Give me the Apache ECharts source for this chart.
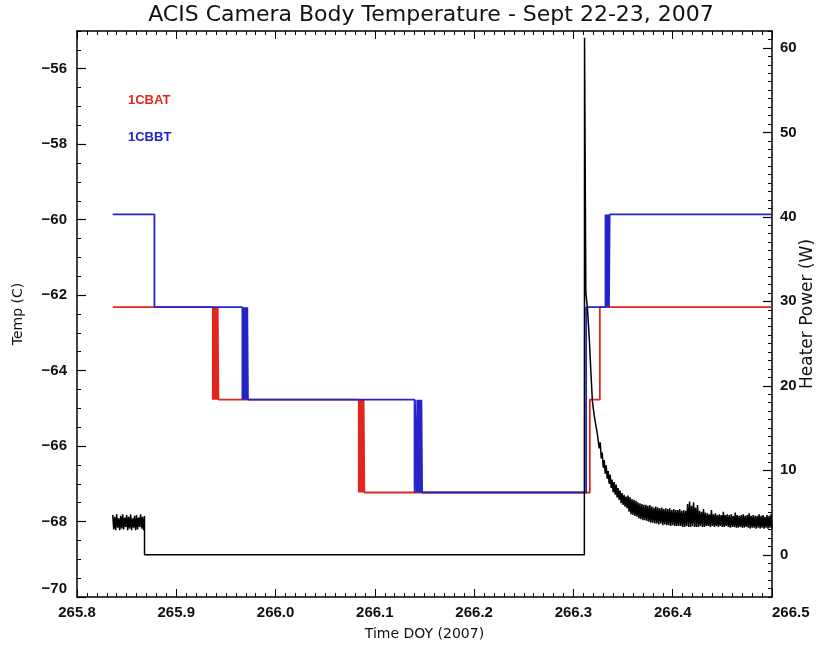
<!DOCTYPE html>
<html><head><meta charset="utf-8">
<script src="https://cdn.jsdelivr.net/npm/echarts@6/dist/echarts.min.js"></script>
<style>html,body{margin:0;padding:0;background:#fff}#c{width:820px;height:648px}</style>
</head><body><div id="c"></div>
<script>
// ---- Data ----
const titleText = 'ACIS Camera Body Temperature - Sept 22-23, 2007';
const seriesNames = ['1CBAT', '1CBBT', 'Heater Power'];
const xName = 'Time DOY (2007)';
const yLeftName = 'Temp (C)';
const yRightName = 'Heater Power (W)';

// 1CBAT temperature (time DOY, deg C)
const cbatPoints = [
  [265.836,-62.32],
  [265.9368,-62.32],[265.9368,-64.77],[265.9375,-64.77],[265.9375,-62.32],[265.9382,-62.32],[265.9382,-64.77],
  [265.9389,-64.77],[265.9389,-62.32],[265.9396,-62.32],[265.9396,-64.77],[265.9403,-64.77],[265.9403,-62.32],
  [265.9410,-62.32],[265.9410,-64.77],[265.9417,-64.77],[265.9417,-62.32],[265.9424,-62.32],[265.9424,-64.77],
  [266.0838,-64.77],[266.0838,-67.23],[266.0845,-67.23],[266.0845,-64.77],[266.0852,-64.77],[266.0852,-67.23],
  [266.0859,-67.23],[266.0859,-64.77],[266.0866,-64.77],[266.0866,-67.23],[266.0873,-67.23],[266.0873,-64.77],
  [266.0880,-64.77],[266.0880,-67.23],[266.0887,-67.23],[266.0887,-64.77],[266.0894,-64.77],[266.0894,-67.23],
  [266.3165,-67.23],[266.3165,-64.77],[266.3266,-64.77],[266.3266,-62.32],[266.5,-62.32]
];
// 1CBBT temperature (time DOY, deg C)
const cbbtPoints = [
  [265.836,-59.86],[265.878,-59.86],[265.878,-62.32],
  [265.9666,-62.32],[265.9666,-64.77],[265.9673,-64.77],[265.9673,-62.32],[265.9680,-62.32],[265.9680,-64.77],
  [265.9687,-64.77],[265.9687,-62.32],[265.9694,-62.32],[265.9694,-64.77],[265.9701,-64.77],[265.9701,-62.32],
  [265.9708,-62.32],[265.9708,-64.77],[265.9715,-64.77],[265.9715,-62.32],[265.9722,-62.32],[265.9722,-64.77],
  [266.1400,-64.77],[266.1400,-67.23],[266.1404,-67.23],[266.1404,-64.77],
  [266.1420,-64.77],[266.1420,-67.23],[266.1427,-67.23],[266.1427,-64.77],[266.1434,-64.77],[266.1434,-67.23],
  [266.1441,-67.23],[266.1441,-64.77],[266.1448,-64.77],[266.1448,-67.23],[266.1455,-67.23],[266.1455,-64.77],
  [266.1462,-64.77],[266.1462,-67.23],[266.1469,-67.23],[266.1469,-64.77],[266.1476,-64.77],[266.1476,-67.23],
  [266.3128,-67.23],[266.3128,-62.32],
  [266.3323,-62.32],[266.3323,-59.86],[266.3330,-59.86],[266.3330,-62.32],[266.3337,-62.32],[266.3337,-59.86],
  [266.3344,-59.86],[266.3344,-62.32],[266.3351,-62.32],[266.3351,-59.86],[266.3358,-59.86],[266.3358,-62.32],
  [266.3365,-62.32],[266.3365,-59.86],
  [266.5,-59.86]
];
// Heater power: early noisy segment, sampled every 0.001 day from 265.836
const powerStartT0 = 265.836;
const powerSampleStep = 0.001;
const powerStartValues = [4.7,3.0,4.5,2.9,4.8,3.2,4.3,2.9,4.6,3.1,4.8,3.0,4.4,3.3,4.7,2.9,4.5,3.1,4.8,2.9,
  4.3,3.2,4.6,2.9,4.7,3.0,4.4,3.3,4.8,3.1,4.5,2.9,4.6];
// Heater power: off period and spike (time DOY, W)
const powerMidPoints = [
  [265.868,0],[266.3110,0],[266.3112,61.2],[266.3125,31.0],[266.3141,29.2],[266.3151,27.3],[266.3161,25.3],
  [266.3176,21.6],[266.3191,18.2],[266.3210,16.4],[266.3232,14.9],[266.3242,14.2]
];
// Heater power: noisy decay, sampled every 0.001 day from 266.325
const powerTailT0 = 266.325;
const powerTailValues = [
  14.4,12.6,13.3,11.4,12.1,10.3,11.2,9.6,10.6,9.0,
  9.9,8.4,9.5,7.9,8.9,7.4,8.6,7.1,8.3,6.8,
  7.9,6.5,7.6,6.1,7.3,5.9,7.1,5.7,6.9,5.5,
  7.0,5.1,6.8,4.8,6.6,4.7,6.5,4.6,6.4,4.5,
  6.2,4.3,6.1,4.2,6.0,4.1,5.9,4.1,5.9,4.0,
  5.8,3.9,5.9,3.8,5.7,3.8,5.6,3.7,5.7,3.7,
  5.6,3.6,5.5,3.7,5.6,3.5,5.4,3.6,5.5,3.5,
  5.4,3.5,5.5,3.4,5.3,3.5,5.4,3.4,5.3,3.4,
  5.3,3.4,5.4,3.4,5.2,3.3,5.3,3.3,5.2,3.4,
  6.0,3.3,6.3,3.3,5.8,3.4,6.2,3.3,5.6,3.3,
  5.9,3.3,5.2,3.4,5.1,3.3,5.4,3.3,5.0,3.4,
  4.9,3.4,4.8,3.3,5.3,3.4,4.8,3.3,4.9,3.4,
  4.7,3.3,4.8,3.4,4.7,3.3,5.1,3.3,4.7,3.4,
  4.8,3.3,4.7,3.2,4.8,3.3,4.6,3.3,5.0,3.2,
  4.7,3.2,4.6,3.3,4.7,3.2,4.8,3.2,4.6,3.3,
  4.7,3.2,4.9,3.1,4.6,3.2,4.7,3.2,4.6,3.1,
  4.6,3.2,4.8,3.1,4.6,3.2,4.7,3.1,4.5,3.2,
  4.7,3.1,4.6,3.2,4.8,3.1
];
const xMin = 265.8, xMax = 266.5, xStep = 0.1;
const tempMin = -70, tempMax = -55, tempStep = 2, tempMinorStep = 0.5;
const powMin = -5, powMax = 62, powStep = 10, powMinorStep = 1;

// ---- Build ----
function sampled(t0, step, vals) {
  return vals.map((v, i) => [Math.round((t0 + i * step) * 1e6) / 1e6, v]);
}
const powerData = sampled(powerStartT0, powerSampleStep, powerStartValues)
  .concat(powerMidPoints)
  .concat(sampled(powerTailT0, powerSampleStep, powerTailValues));

const FONT = 'Liberation Sans';
const HFONT = 'DejaVu Sans';
const ink = '#111';
const minus = v => String(v).replace('-', '\u2212');
const tickFont = {fontFamily: FONT, fontSize: 15, fontWeight: 'bold', color: ink};

const baseAxisLine = {show: true, onZero: false, lineStyle: {color: '#000', width: 1.5}};
const chart = echarts.init(document.getElementById('c'), null, {renderer: 'canvas'});
chart.setOption({
  animation: false,
  backgroundColor: '#fff',
  grid: {left: 77, right: 48, top: 31, bottom: 51, containLabel: false, outerBoundsMode: 'none'},
  xAxis: [
    {type: 'value', position: 'bottom', min: xMin, max: xMax, interval: xStep,
      axisLine: baseAxisLine,
      axisTick: {show: true, inside: true, length: 8, lineStyle: {color: '#000', width: 1}},
      minorTick: {show: true, splitNumber: 10, length: 4, lineStyle: {color: '#000', width: 1}},
      axisLabel: Object.assign({formatter: v => v.toFixed(1), margin: 8, alignMaxLabel: 'left'}, tickFont),
      splitLine: {show: false},
      name: xName, nameLocation: 'middle', nameGap: 30,
      nameTextStyle: {fontFamily: HFONT, fontSize: 14, color: ink}},
    {type: 'value', position: 'top', min: xMin, max: xMax, interval: xStep,
      axisLine: baseAxisLine,
      axisTick: {show: true, inside: true, length: 8, lineStyle: {color: '#000', width: 1}},
      minorTick: {show: true, splitNumber: 10, length: 4, lineStyle: {color: '#000', width: 1}},
      axisLabel: {show: false}, splitLine: {show: false}}
  ],
  yAxis: [
    {type: 'value', position: 'left', min: tempMin, max: tempMax, interval: tempStep,
      axisLine: baseAxisLine,
      axisTick: {show: true, inside: true, length: 9, lineStyle: {color: '#000', width: 1.2}},
      axisLabel: Object.assign({
        formatter: v => (v === tempMin ? '{lo|' + minus(v) + '}' : (v % 2 === 0 ? minus(v) : '')),
        showMaxLabel: false, margin: 10,
        rich: {lo: Object.assign({padding: [0, 0, 16, 0]}, tickFont)}}, tickFont),
      splitLine: {show: false},
      name: yLeftName, nameLocation: 'middle', nameGap: 52, nameRotate: 90,
      nameTextStyle: {fontFamily: HFONT, fontSize: 14, color: ink}},
    {type: 'value', position: 'left', min: tempMin, max: tempMax, interval: tempMinorStep,
      axisLine: {show: false},
      axisTick: {show: true, inside: true, length: 4, lineStyle: {color: '#000', width: 1}},
      axisLabel: {show: false}, splitLine: {show: false}},
    {type: 'value', position: 'right', min: powMin, max: powMax, minInterval: powStep, maxInterval: powStep,
      axisLine: baseAxisLine,
      axisTick: {show: true, inside: true, length: 9, lineStyle: {color: '#000', width: 1.2}},
      axisLabel: Object.assign({formatter: v => (v % 10 === 0 ? String(v) : ''),
        showMinLabel: false, showMaxLabel: false, margin: 8}, tickFont),
      splitLine: {show: false},
      name: yRightName, nameLocation: 'middle', nameGap: 27, nameRotate: 90, nameMoveOverlap: false,
      nameTextStyle: {fontFamily: HFONT, fontSize: 17, color: ink}},
    {type: 'value', position: 'right', min: powMin, max: powMax, interval: powMinorStep,
      axisLine: {show: false},
      axisTick: {show: true, inside: true, length: 4, lineStyle: {color: '#000', width: 1}},
      axisLabel: {show: false}, splitLine: {show: false}}
  ],
  graphic: [
    {type: 'text', x: 431, y: 15, style: {text: titleText, fill: '#111', align: 'center', verticalAlign: 'middle',
      font: '22px "DejaVu Sans"'}},
    {type: 'text', left: 128, top: 94, style: {text: seriesNames[0], fill: '#e2261d', font: 'bold 13px "Liberation Sans"'}},
    {type: 'text', left: 128, top: 131, style: {text: seriesNames[1], fill: '#2424c8', font: 'bold 13px "Liberation Sans"'}}
  ],
  series: [
    {name: seriesNames[0], type: 'line', xAxisIndex: 0, yAxisIndex: 0, data: cbatPoints,
      showSymbol: false, symbol: 'none', lineStyle: {color: '#e2261d', width: 1.8}, z: 2},
    {name: seriesNames[1], type: 'line', xAxisIndex: 0, yAxisIndex: 0, data: cbbtPoints,
      showSymbol: false, symbol: 'none', lineStyle: {color: '#2424c8', width: 1.8}, z: 3},
    {name: seriesNames[2], type: 'line', xAxisIndex: 0, yAxisIndex: 2, data: powerData,
      showSymbol: false, symbol: 'none', lineStyle: {color: '#000', width: 1.5}, z: 4}
  ]
});
</script></body></html>
